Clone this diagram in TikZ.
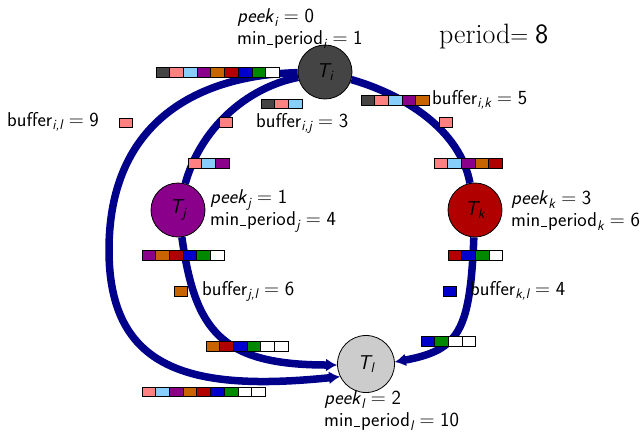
\documentclass[tikz,border=0pt]{standalone}
\usepackage{amsmath}
\usetikzlibrary{arrows.meta,backgrounds}
\definecolor{edgeblue}{RGB}{0,0,139}
\definecolor{cgray}{RGB}{68,68,68}
\definecolor{cpink}{RGB}{255,128,128}
\definecolor{cblue}{RGB}{135,206,250}
\definecolor{cpurple}{RGB}{139,0,139}
\definecolor{corange}{RGB}{200,100,0}
\definecolor{cred}{RGB}{176,0,0}
\definecolor{cdblue}{RGB}{0,0,204}
\definecolor{cgreen}{RGB}{0,136,0}
\definecolor{cltgray}{RGB}{204,204,204}
\newcommand{\si}[1]{\textsf{\itshape #1}}
\newcommand{\us}{\leavevmode\kern.06em\vbox{\hrule width.3em height .05em}\kern.03em}
\newcommand{\bufcells}[3]{\foreach \cc [count=\nn from 0] in {#3} {\draw[cell, fill=\cc] ({#1+\nn*13.7},{#2-4.75}) rectangle ++(13.7,9.5);}}
\begin{document}
\begin{tikzpicture}[x=1pt,y=-1pt,
  every node/.style={font=\sffamily\fontsize{20}{22}\selectfont},
  task/.style={circle,draw=black,line width=0.8pt,minimum size=54pt,inner sep=0pt},
  lbl/.style={anchor=west,inner sep=0pt,align=left},
  flow/.style={draw=edgeblue,line width=7.5pt},
  tip/.style={-{Latex[length=11pt,width=13pt]}},
  cell/.style={draw=black,line width=0.7pt}]
\useasboundingbox (0,0) rectangle (643,432);
\node[task,fill=cgray] (Ti) at (325,72) {$\si{T}_{\si{i}}$};
\node[task,fill=cpurple] (Tj) at (178,210) {$\si{T}_{\si{j}}$};
\node[task,fill=cred] (Tk) at (475,210) {$\si{T}_{\si{k}}$};
\node[task,fill=cltgray,minimum size=57pt] (Tl) at (366,364) {$\si{T}_{\si{l}}$};
\begin{scope}[on background layer]
\draw[flow] (Ti) .. controls (245,88) and (200,130) .. (Tj);
\draw[flow] (Ti) .. controls (405,95) and (460,130) .. (Tk);
\draw[flow,tip] (Ti) .. controls (200,75) and (109,120) .. (109,250) .. controls (109,370) and (190,392) .. (Tl.206);
\draw[flow,tip] (Tj) .. controls (195,330) and (220,365) .. (Tl.182);
\draw[flow,tip] (Tk) .. controls (470,330) and (460,350) .. (Tl.4);
\end{scope}
\bufcells{156}{72.5}{cgray,cpink,cblue,cpurple,corange,cred,cdblue,cgreen,white}
\bufcells{261}{104}{cgray,cpink,cblue}
\bufcells{361}{100.5}{cgray,cpink,cblue,cpurple,corange}
\bufcells{219}{122.5}{cpink}
\bufcells{439}{122.5}{cpink}
\bufcells{119}{123}{cpink}
\bufcells{188}{163.5}{cpink,cblue,cpurple}
\bufcells{434}{163.5}{cpink,cblue,cpurple,corange,cred}
\bufcells{142}{255.5}{cpurple,corange,cred,cdblue,cgreen,white}
\bufcells{448}{255.5}{cred,cdblue,cgreen,white}
\bufcells{174}{291.5}{corange}
\bufcells{443}{291.5}{cdblue}
\bufcells{206}{346.5}{corange,cred,cdblue,cgreen,white,white}
\bufcells{421}{341.5}{cdblue,cgreen,white,white}
\bufcells{142}{392}{cpink,cblue,cpurple,corange,cred,cdblue,cgreen,white,white}
\node[lbl] (li) at (237,29) {\si{peek}$_{\si{i}} = \textsf{0}$\\min\us period$_{\si{i}} = \textsf{1}$};
\node[lbl] (lj) at (210,211) {\si{peek}$_{\si{j}} = \textsf{1}$\\min\us period$_{\si{j}} = \textsf{4}$};
\node[lbl] (lk) at (511,211) {\si{peek}$_{\si{k}} = \textsf{3}$\\min\us period$_{\si{k}} = \textsf{6}$};
\node[lbl] (ll) at (324,411) {\si{peek}$_{\si{l}} = \textsf{2}$\\min\us period$_{\si{l}} = \textsf{10}$};
\node[lbl] (bij) at (256,123) {buffer$_{\si{i,j}} = \textsf{3}$};
\node[lbl] (bik) at (432,100) {buffer$_{\si{i,k}} = \textsf{5}$};
\node[lbl] (bil) at (7,122) {buffer$_{\si{i,l}} = \textsf{9}$};
\node[lbl] (bjl) at (202,291) {buffer$_{\si{j,l}} = \textsf{6}$};
\node[lbl] (bkl) at (470,291) {buffer$_{\si{k,l}} = \textsf{4}$};
\node[lbl,font=\rmfamily\fontsize{28}{32}\selectfont] (per) at (439,37) {period$= \textsf{8}$};
\end{tikzpicture}
\end{document}
